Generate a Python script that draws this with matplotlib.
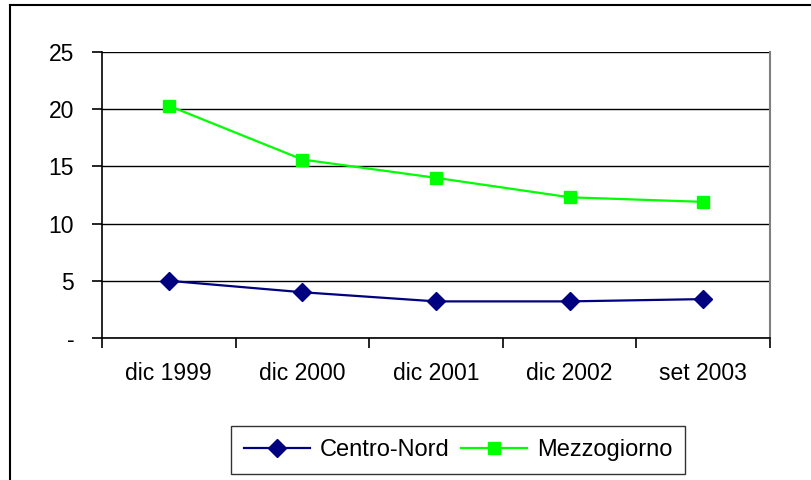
import matplotlib.pyplot as plt
from matplotlib.lines import Line2D

plt.rcParams['font.family'] = ['Liberation Sans', 'DejaVu Sans']

periods = ['dic 1999', 'dic 2000', 'dic 2001', 'dic 2002', 'set 2003']
centro_nord = [5.0, 4.0, 3.2, 3.2, 3.4]
mezzogiorno = [20.3, 15.6, 14.0, 12.3, 11.9]
yticks = [0, 5, 10, 15, 20, 25]
ytick_labels = ['-', '5', '10', '15', '20', '25']

W, H = 811, 480
fig = plt.figure(figsize=(W / 100, H / 100), dpi=100)
ax = fig.add_axes([102 / W, 1 - 338 / H, 668 / W, 286 / H])

x = range(len(periods))
ax.plot(x, centro_nord, color='#000080', marker='D', markersize=9, lw=1.6,
        label='Centro-Nord')
ax.plot(x, mezzogiorno, color='#00ff00', marker='s', markersize=9, lw=1.6,
        label='Mezzogiorno')

ax.set_xlim(-0.5, len(periods) - 0.5)
ax.set_ylim(0, 25)
ax.set_yticks(yticks)
ax.set_yticklabels(ytick_labels)
ax.set_xticks(x)
ax.set_xticklabels(periods)
ax.set_xticks([i - 0.5 for i in range(len(periods) + 1)], minor=True)
ax.tick_params(axis='x', which='major', length=0, pad=17, labelsize=16.5)
ax.tick_params(axis='x', which='minor', length=7, width=1.2, direction='out')
ax.tick_params(axis='y', length=7, width=1.2, direction='out', pad=13, labelsize=16.5)
ax.grid(axis='y', color='#000000', lw=1)

ax.spines['left'].set_color('#000000')
ax.spines['bottom'].set_color('#000000')
ax.spines['left'].set_linewidth(1.2)
ax.spines['bottom'].set_linewidth(1.2)
ax.spines['right'].set_color('#808080')
ax.spines['right'].set_linewidth(1.5)
ax.spines['top'].set_visible(False)

leg = fig.legend(loc='center', bbox_to_anchor=((236 + 680) / 2 / W, 1 - 450 / H),
                 ncol=2, frameon=True, fancybox=False, fontsize=17,
                 handlelength=2.8, columnspacing=0.5, handletextpad=0.4,
                 borderpad=0.55, borderaxespad=0, edgecolor='#000000')
leg.get_frame().set_linewidth(1)

# outer chart border (only top and left visible)
fig.add_artist(Line2D([10 / W, 1], [1 - 5 / H, 1 - 5 / H], color='#000000', lw=1.5,
                      transform=fig.transFigure))
fig.add_artist(Line2D([10 / W, 10 / W], [0, 1 - 5 / H], color='#000000', lw=1.5,
                      transform=fig.transFigure))

plt.savefig('out.png', dpi=100)
